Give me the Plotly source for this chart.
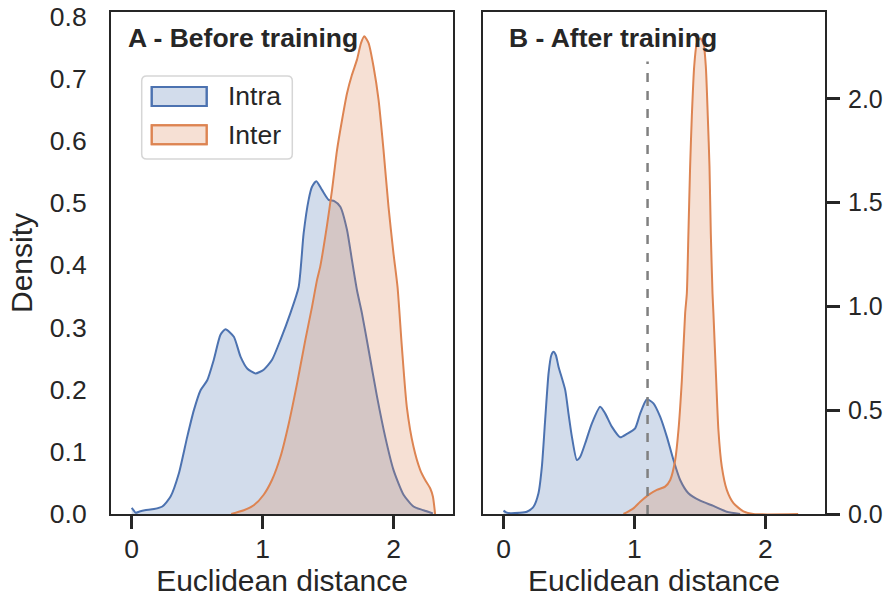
import plotly.graph_objects as go
from plotly.subplots import make_subplots

# ---- Panel A (before training) ----
a_intra_x = [0.0, 0.015, 0.03, 0.06, 0.10, 0.17, 0.234, 0.297, 0.36, 0.424, 0.475, 0.526, 0.577, 0.627, 0.678, 0.716,
             0.78, 0.831, 0.882, 0.945, 1.008, 1.072, 1.136, 1.212, 1.275, 1.313, 1.351, 1.377, 1.41, 1.453, 1.504,
             1.547, 1.593, 1.644, 1.682, 1.72, 1.758, 1.809, 1.873, 1.936, 1.999, 2.076, 2.152, 2.228, 2.30]
a_intra_y = [0.010, 0.006, 0.002, 0.004, 0.006, 0.008, 0.012, 0.028, 0.065, 0.124, 0.167, 0.199, 0.215, 0.248, 0.288, 0.297,
             0.285, 0.253, 0.234, 0.226, 0.232, 0.248, 0.280, 0.323, 0.365, 0.451, 0.505, 0.526, 0.535, 0.521, 0.505,
             0.503, 0.494, 0.457, 0.408, 0.360, 0.323, 0.264, 0.189, 0.124, 0.071, 0.031, 0.012, 0.006, 0.001]

a_inter_x = [0.76, 0.856, 0.932, 1.008, 1.072, 1.136, 1.20, 1.263, 1.326, 1.377, 1.415, 1.44, 1.49, 1.53, 1.568, 1.606,
             1.644, 1.682, 1.72, 1.751, 1.776, 1.809, 1.847, 1.885, 1.923, 1.961, 1.999, 2.03, 2.063, 2.101, 2.152,
             2.203, 2.24, 2.28, 2.30, 2.317]
a_inter_y = [0.0, 0.006, 0.014, 0.031, 0.055, 0.092, 0.146, 0.210, 0.280, 0.333, 0.376, 0.398, 0.462, 0.521, 0.585, 0.633,
             0.676, 0.706, 0.730, 0.757, 0.768, 0.757, 0.719, 0.666, 0.585, 0.494, 0.419, 0.365, 0.269, 0.172, 0.108,
             0.071, 0.055, 0.041, 0.028, 0.0]

# ---- Panel B (after training) ----
b_intra_x = [0.0, 0.02, 0.05, 0.12, 0.178, 0.229, 0.267, 0.293, 0.318, 0.344, 0.365, 0.382, 0.40, 0.42, 0.471, 0.496, 0.522, 0.56,
             0.586, 0.624, 0.675, 0.738, 0.776, 0.827, 0.891, 0.942, 1.005, 1.044, 1.095, 1.145, 1.196, 1.247, 1.298,
             1.349, 1.412, 1.502, 1.603, 1.705, 1.807]
b_intra_y = [0.016, 0.008, 0.004, 0.006, 0.011, 0.035, 0.100, 0.228, 0.453, 0.678, 0.765, 0.782, 0.765, 0.710, 0.598, 0.485, 0.373, 0.260,
             0.276, 0.341, 0.437, 0.517, 0.485, 0.421, 0.370, 0.386, 0.413, 0.485, 0.553, 0.533, 0.469, 0.373, 0.260,
             0.164, 0.100, 0.064, 0.039, 0.011, 0.0]

b_inter_x = [0.916, 0.992, 1.044, 1.107, 1.171, 1.234, 1.273, 1.311, 1.336, 1.362, 1.387, 1.40, 1.412, 1.425, 1.438,
             1.456, 1.476, 1.502, 1.527, 1.545, 1.56, 1.573, 1.583, 1.596, 1.603, 1.624, 1.641, 1.667, 1.705, 1.756,
             1.832, 1.908, 2.25]
b_inter_y = [0.0, 0.027, 0.059, 0.092, 0.116, 0.132, 0.164, 0.260, 0.405, 0.646, 0.967, 1.064, 1.353, 1.674, 1.915,
             2.156, 2.268, 2.293, 2.268, 2.156, 1.915, 1.674, 1.353, 1.064, 0.967, 0.646, 0.405, 0.228, 0.116, 0.052,
             0.013, 0.0, 0.0]

threshold_x = [1.10, 1.10]
threshold_y = [0.0, 2.18]

x_ticks = [0, 1, 2]
a_y_ticks = [0.0, 0.1, 0.2, 0.3, 0.4, 0.5, 0.6, 0.7, 0.8]
b_y_ticks = [0.0, 0.5, 1.0, 1.5, 2.0]
series_names = ["Intra", "Inter"]

BLUE = "#4C72B0"
ORANGE = "#DD8452"
BLUE_FILL = "rgba(76,114,176,0.25)"
ORANGE_FILL = "rgba(221,132,82,0.25)"
INK = "#262626"
FONT = "Liberation Sans, Arial, sans-serif"
TICK_SIZE = 26.5
LABEL_SIZE = 30

W, H = 884, 598
ML, MR, MT, MB = 111, 59, 12, 84
PW, PH = W - ML - MR, H - MT - MB
PAGE_LEFT, PAGE_BOTTOM = ML, H - MB


def px(x):
    return (x - PAGE_LEFT) / PW


def py(y):
    return (PAGE_BOTTOM - y) / PH


fig = make_subplots(rows=1, cols=2, horizontal_spacing=0.0415)


def kde(x, y, color, fill, name, col):
    fig.add_trace(go.Scatter(x=x, y=y, mode="lines", name=name, fill="tozeroy", fillcolor=fill,
                             line=dict(color=color, width=2, shape="spline", smoothing=0.6),
                             showlegend=False), row=1, col=col)


kde(a_intra_x, a_intra_y, BLUE, BLUE_FILL, series_names[0], 1)
kde(a_inter_x, a_inter_y, ORANGE, ORANGE_FILL, series_names[1], 1)
kde(b_intra_x, b_intra_y, BLUE, BLUE_FILL, series_names[0], 2)
kde(b_inter_x, b_inter_y, ORANGE, ORANGE_FILL, series_names[1], 2)
fig.add_trace(go.Scatter(x=threshold_x, y=threshold_y, mode="lines", showlegend=False,
                         line=dict(color="#808080", width=2.5, dash="dash")), row=1, col=2)

axis_common = dict(showline=True, linecolor=INK, linewidth=2, mirror=True, showgrid=False, zeroline=False,
                   automargin=False, ticklabeloverflow="allow")
for c in (1, 2):
    fig.update_xaxes(range=[-0.158, 2.455], tickvals=x_ticks, ticktext=[str(v) for v in x_ticks],
                     ticks="outside", ticklen=13, tickwidth=2.5, tickcolor=INK, ticklabelstandoff=-3,
                     tickfont=dict(size=TICK_SIZE, color=INK, family=FONT),
                     title=dict(text="Euclidean distance", font=dict(size=LABEL_SIZE, color=INK, family=FONT),
                                standoff=2),
                     row=1, col=c, **axis_common)

fig.update_yaxes(range=[0, 0.807], tickvals=a_y_ticks, ticktext=[f"{v:.1f}" for v in a_y_ticks],
                 ticks="outside", ticklen=17, tickcolor="rgba(0,0,0,0)",
                 tickfont=dict(size=TICK_SIZE, color=INK, family=FONT),
                 title=dict(text="Density", font=dict(size=LABEL_SIZE, color=INK, family=FONT), standoff=8),
                 row=1, col=1, **axis_common)
fig.update_yaxes(range=[0, 2.419], tickvals=b_y_ticks, ticktext=[f"{v:.1f}" for v in b_y_ticks],
                 side="right", ticks="outside", ticklen=13, tickwidth=2.5, tickcolor=INK, ticklabelstandoff=3,
                 tickfont=dict(size=25, color=INK, family=FONT),
                 row=1, col=2, **axis_common)

fig.add_annotation(text="<b>A - Before training</b>", xref="x domain", yref="y domain", x=0.045, y=0.948,
                   xanchor="left", yanchor="middle", showarrow=False,
                   font=dict(size=TICK_SIZE, color=INK, family=FONT))
fig.add_annotation(text="<b>B - After training</b>", xref="x2 domain", yref="y2 domain", x=0.072, y=0.948,
                   xanchor="left", yanchor="middle", showarrow=False,
                   font=dict(size=TICK_SIZE, color=INK, family=FONT))

# ---- legend box (drawn to match the large patch style) ----
bx0, bx1, by0, by1, r = 141.7, 292.3, 76, 159, 5
path = (f"M {px(bx0 + r)},{py(by0)} L {px(bx1 - r)},{py(by0)} Q {px(bx1)},{py(by0)} {px(bx1)},{py(by0 + r)} "
        f"L {px(bx1)},{py(by1 - r)} Q {px(bx1)},{py(by1)} {px(bx1 - r)},{py(by1)} "
        f"L {px(bx0 + r)},{py(by1)} Q {px(bx0)},{py(by1)} {px(bx0)},{py(by1 - r)} "
        f"L {px(bx0)},{py(by0 + r)} Q {px(bx0)},{py(by0)} {px(bx0 + r)},{py(by0)} Z")
fig.add_shape(type="path", path=path, xref="paper", yref="paper",
              line=dict(color="#d6d6d6", width=1.5), fillcolor="rgba(255,255,255,0.8)", layer="above")
for name, color, fill, cy in [(series_names[0], BLUE, BLUE_FILL, 96.5), (series_names[1], ORANGE, ORANGE_FILL, 134.7)]:
    fig.add_shape(type="rect", xref="paper", yref="paper",
                  x0=px(151.7), x1=px(206.7), y0=py(cy - 9.5), y1=py(cy + 9.5),
                  line=dict(color=color, width=2), fillcolor="white", layer="above")
    fig.add_shape(type="rect", xref="paper", yref="paper",
                  x0=px(151.7), x1=px(206.7), y0=py(cy - 9.5), y1=py(cy + 9.5),
                  line=dict(color=color, width=2), fillcolor=fill, layer="above")
    fig.add_annotation(text=name, xref="paper", yref="paper", x=px(226), y=py(cy), xanchor="left",
                       yanchor="middle", showarrow=False, font=dict(size=TICK_SIZE, color=INK, family=FONT))

fig.update_layout(
    width=W, height=H,
    margin=dict(l=ML, r=MR, t=MT, b=MB, autoexpand=False),
    paper_bgcolor="white", plot_bgcolor="white",
    font=dict(family=FONT, color=INK),
    showlegend=False,
)

fig.write_html("out.html", config={"displayModeBar": False},
               post_script="document.body.style.margin='0';document.body.style.overflow='hidden';")
